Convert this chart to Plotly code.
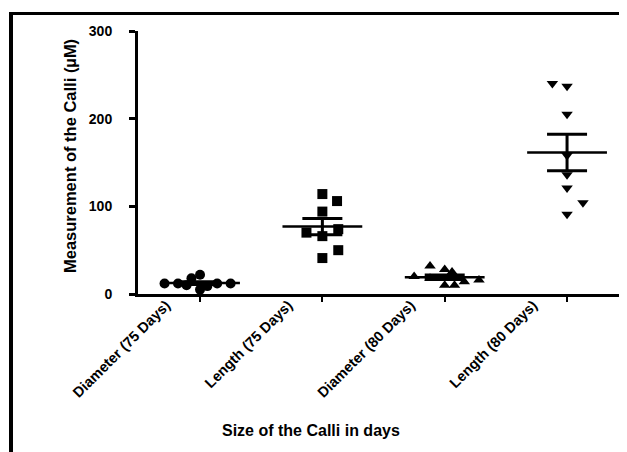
import numpy as np
import plotly.graph_objects as go

# ---- data ----
categories = ["Diameter (75 Days)", "Length (75 Days)", "Diameter (80 Days)", "Length (80 Days)"]

diam75_vals = [12, 12, 10, 18, 22, 5, 9, 12, 12]
diam75_jit = [-0.29, -0.18, -0.11, -0.07, 0.0, 0.0, 0.06, 0.14, 0.25]

len75_vals = [114, 106, 94, 70, 66, 74, 50, 41]
len75_jit = [0.0, 0.12, 0.0, -0.13, 0.0, 0.13, 0.13, 0.0]

diam80_vals = [20, 32, 28, 25, 18, 10, 10, 14, 16]
diam80_jit = [-0.25, -0.12, 0.0, 0.06, -0.12, 0.0, 0.08, 0.16, 0.28]

len80_vals = [240, 237, 205, 158, 136, 121, 104, 91]
len80_jit = [-0.12, 0.0, 0.0, 0.0, 0.0, 0.0, 0.13, 0.0]

y_ticks = [0, 100, 200, 300]

groups = [
    (diam75_vals, diam75_jit, "circle"),
    (len75_vals, len75_jit, "square"),
    (diam80_vals, diam80_jit, "triangle-up"),
    (len80_vals, len80_jit, "triangle-down"),
]

FONT = "Liberation Sans, Arial, sans-serif"
fig = go.Figure()

means, sems = [], []
for i, (vals, jit, sym) in enumerate(groups):
    v = np.array(vals, dtype=float)
    means.append(v.mean())
    sems.append(v.std(ddof=1) / np.sqrt(len(v)))
    fig.add_trace(go.Scatter(
        x=[i + j for j in jit], y=vals, mode="markers",
        marker=dict(symbol=sym, size=10, color="black", line=dict(width=0)),
        showlegend=False, hoverinfo="skip"))

idx = list(range(len(categories)))
# mean lines
fig.add_trace(go.Scatter(
    x=idx, y=means, mode="markers",
    marker=dict(symbol="line-ew", size=57, color="black",
                line=dict(width=2.5, color="black")),
    showlegend=False, hoverinfo="skip"))
# SEM error bars
fig.add_trace(go.Scatter(
    x=idx, y=means, mode="markers",
    marker=dict(size=1, color="rgba(0,0,0,0)"),
    error_y=dict(type="data", array=sems, visible=True, color="black",
                 thickness=3, width=20),
    showlegend=False, hoverinfo="skip"))

# page body has an 8px margin; work in screen pixels and convert
OX, OY = 8, 8
SW, SH = 627, 452
W, H = SW - OX, SH - OY
AX_L, AX_R, AX_T, AX_B = 138, 627, 31, 294   # plot area on screen
L, R, T, B = AX_L - OX, SW - AX_R, AX_T - OY, SH - AX_B
pw, ph = AX_R - AX_L, AX_B - AX_T

def px_x(p):
    return (p - AX_L) / pw

def px_y(p):
    return (AX_B - p) / ph

fig.update_layout(
    width=W, height=H,
    margin=dict(l=L, r=R, t=T, b=B, pad=0),
    paper_bgcolor="white", plot_bgcolor="white",
    font=dict(family=FONT, color="black"),
    xaxis=dict(
        range=[-0.507, 3.49], tickmode="array", tickvals=idx, ticktext=categories,
        tickangle=-45, showgrid=False, zeroline=False,
        showline=True, linecolor="black", linewidth=3,
        ticks="outside", ticklen=5, tickwidth=2, tickcolor="black",
        tickfont=dict(family=FONT, size=14.5, color="black", weight="bold"),
        ticklabelshift=-34, ticklabelstandoff=-11,
    ),
    yaxis=dict(
        range=[0, 300], tickmode="array", tickvals=y_ticks,
        showgrid=False, zeroline=False,
        showline=True, linecolor="black", linewidth=3,
        ticks="outside", ticklen=6, tickwidth=2.5, tickcolor="black",
        tickfont=dict(family=FONT, size=14, color="black", weight="bold"),
        ticklabelstandoff=14,
    ),
    annotations=[
        dict(text="Measurement of the Calli (µM)", xref="paper", yref="paper",
             x=px_x(70), y=px_y(156), textangle=-90, showarrow=False,
             xanchor="center", yanchor="middle",
             font=dict(family=FONT, size=16.5, color="black", weight="bold")),
        dict(text="Size of the Calli in days", xref="paper", yref="paper",
             x=px_x(311), y=px_y(430), showarrow=False,
             xanchor="center", yanchor="middle",
             font=dict(family=FONT, size=16, color="black", weight="bold")),
    ],
    shapes=[
        dict(type="line", xref="paper", yref="paper",
             x0=px_x(9), x1=px_x(640), y0=px_y(13.5), y1=px_y(13.5),
             line=dict(color="black", width=3)),
        dict(type="line", xref="paper", yref="paper",
             x0=px_x(11), x1=px_x(11), y0=px_y(12), y1=px_y(470),
             line=dict(color="black", width=4)),
    ],
)

fig.write_html("out.html")
